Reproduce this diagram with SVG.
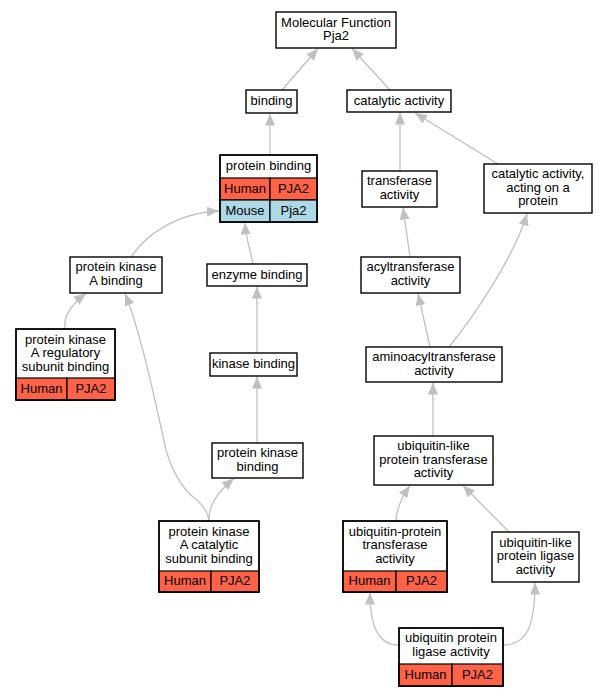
<svg xmlns="http://www.w3.org/2000/svg" width="607" height="696" viewBox="0 0 607 696">
<style>
.bg{fill:#ffffff}
.box{fill:#ffffff;stroke:#000000;stroke-width:1.4}
.cell{stroke:#000000;stroke-width:1.2}
.hu{fill:#ff6347}
.mo{fill:#add8e6}
.ln{stroke:#000000;stroke-width:1.2;fill:none}
text{font-family:"Liberation Sans",Arial,sans-serif;font-size:13px;fill:#000000;text-anchor:middle}
.edge{fill:none;stroke:#c0c0c0;stroke-width:1.3;marker-end:url(#ah)}
</style>
<defs>
<marker id="ah" markerUnits="userSpaceOnUse" markerWidth="12" markerHeight="10" viewBox="0 0 12 10" refX="12" refY="5" orient="auto">
<path d="M0,0 L12,5 L0,10 z" fill="#c0c0c0"/>
</marker>
</defs>
<rect class="bg" x="0" y="0" width="607" height="696"/>
<g id="edges">
<path class="edge" d="M282,90 L318,48.5"/>
<path class="edge" d="M390,90 L352,48.5"/>
<path class="edge" d="M270,155 L270,113.5"/>
<path class="edge" d="M400,171 L400,112.5"/>
<path class="edge" d="M498,164 L415,113"/>
<path class="edge" d="M131,257 C145,236 175,213 219,211"/>
<path class="edge" d="M253,264 C251,252 246,240 245,222.5"/>
<path class="edge" d="M410,257 L403,207.5"/>
<path class="edge" d="M65,329 C63,316 72,304 86,293.5"/>
<path class="edge" d="M257,353 L257,286.5"/>
<path class="edge" d="M430,347 L418,293.5"/>
<path class="edge" d="M449,347 C475,315 515,255 527,213.5"/>
<path class="edge" d="M257,443 L257,376.5"/>
<path class="edge" d="M433,436 L433,382.5"/>
<path class="edge" d="M209,521 C208,510 200,502 192,496 C180,485 172,470 166,450 C155,400 140,330 125,293.5"/>
<path class="edge" d="M209,521 C208,505 218,492 234,478.5"/>
<path class="edge" d="M396,521 C396,508 402,497 410,485.5"/>
<path class="edge" d="M509,532 L463,485.5"/>
<path class="edge" d="M399,645 C380,645 370,630 370,592.5"/>
<path class="edge" d="M503,645 C525,645 535,630 535,582.5"/>
</g>
<g id="mf">
<rect class="box" x="276" y="12" width="120" height="36"/>
<text x="336" y="26.75">Molecular Function</text>
<text x="336" y="40.25">Pja2</text>
</g>
<g id="binding">
<rect class="box" x="246" y="90" width="51" height="23"/>
<text x="271.5" y="105">binding</text>
</g>
<g id="catalytic">
<rect class="box" x="347" y="90" width="104" height="22"/>
<text x="399" y="104.5">catalytic activity</text>
</g>
<g id="protein_binding">
<rect class="box" x="220" y="155" width="97" height="67"/>
<rect class="hu cell" x="220" y="178" width="50" height="22"/>
<rect class="hu cell" x="270" y="178" width="47" height="22"/>
<rect class="mo cell" x="220" y="200" width="50" height="22"/>
<rect class="mo cell" x="270" y="200" width="47" height="22"/>
<rect x="220" y="155" width="97" height="67" fill="none" stroke="#000" stroke-width="1.4"/>
<text x="268.5" y="170">protein binding</text>
<text x="245" y="192.5">Human</text>
<text x="293.5" y="192.5">PJA2</text>
<text x="245" y="214.5">Mouse</text>
<text x="293.5" y="214.5">Pja2</text>
</g>
<g id="transferase">
<rect class="box" x="362" y="171" width="75" height="36"/>
<text x="399.5" y="185.25">transferase</text>
<text x="399.5" y="198.75">activity</text>
</g>
<g id="cat_acting">
<rect class="box" x="484" y="164" width="108" height="49"/>
<text x="538" y="178">catalytic activity,</text>
<text x="538" y="191.5">acting on a</text>
<text x="538" y="205">protein</text>
</g>
<g id="pka_binding">
<rect class="box" x="70" y="257" width="92" height="36"/>
<text x="116" y="271.25">protein kinase</text>
<text x="116" y="284.75">A binding</text>
</g>
<g id="enzyme_binding">
<rect class="box" x="207" y="264" width="100" height="22"/>
<text x="257" y="278.5">enzyme binding</text>
</g>
<g id="acyl">
<rect class="box" x="361" y="257" width="99" height="36"/>
<text x="410.5" y="271.25">acyltransferase</text>
<text x="410.5" y="284.75">activity</text>
</g>
<g id="pka_reg">
<rect class="box" x="16" y="329" width="99" height="71"/>
<rect class="hu cell" x="16" y="378" width="51" height="22"/>
<rect class="hu cell" x="67" y="378" width="48" height="22"/>
<rect x="16" y="329" width="99" height="71" fill="none" stroke="#000" stroke-width="1.4"/>
<text x="65.5" y="343.5">protein kinase</text>
<text x="65.5" y="357">A regulatory</text>
<text x="65.5" y="370.5">subunit binding</text>
<text x="41.5" y="392.5">Human</text>
<text x="91" y="392.5">PJA2</text>
</g>
<g id="kinase_binding">
<rect class="box" x="210" y="353" width="87" height="23"/>
<text x="253.5" y="368">kinase binding</text>
</g>
<g id="aminoacyl">
<rect class="box" x="366" y="347" width="136" height="35"/>
<text x="434" y="361">aminoacyltransferase</text>
<text x="434" y="374.5">activity</text>
</g>
<g id="pk_binding">
<rect class="box" x="212" y="443" width="91" height="35"/>
<text x="257.5" y="457">protein kinase</text>
<text x="257.5" y="470.5">binding</text>
</g>
<g id="ubl_transferase">
<rect class="box" x="374" y="436" width="119" height="49"/>
<text x="433.5" y="450">ubiquitin-like</text>
<text x="433.5" y="463.5">protein transferase</text>
<text x="433.5" y="477">activity</text>
</g>
<g id="pka_cat">
<rect class="box" x="159" y="521" width="100" height="71"/>
<rect class="hu cell" x="159" y="571" width="52" height="21"/>
<rect class="hu cell" x="211" y="571" width="48" height="21"/>
<rect x="159" y="521" width="100" height="71" fill="none" stroke="#000" stroke-width="1.4"/>
<text x="209" y="535.5">protein kinase</text>
<text x="209" y="549">A catalytic</text>
<text x="209" y="562.5">subunit binding</text>
<text x="185" y="585">Human</text>
<text x="235" y="585">PJA2</text>
</g>
<g id="ubp_transferase">
<rect class="box" x="343" y="521" width="104" height="71"/>
<rect class="hu cell" x="343" y="571" width="53" height="21"/>
<rect class="hu cell" x="396" y="571" width="51" height="21"/>
<rect x="343" y="521" width="104" height="71" fill="none" stroke="#000" stroke-width="1.4"/>
<text x="395" y="535.5">ubiquitin-protein</text>
<text x="395" y="549">transferase</text>
<text x="395" y="562.5">activity</text>
<text x="369.5" y="585">Human</text>
<text x="421.5" y="585">PJA2</text>
</g>
<g id="ubl_ligase">
<rect class="box" x="492" y="532" width="87" height="50"/>
<text x="535.5" y="546.5">ubiquitin-like</text>
<text x="535.5" y="560">protein ligase</text>
<text x="535.5" y="573.5">activity</text>
</g>
<g id="ubp_ligase">
<rect class="box" x="399" y="628" width="104" height="58"/>
<rect class="hu cell" x="399" y="664" width="53" height="22"/>
<rect class="hu cell" x="452" y="664" width="51" height="22"/>
<rect x="399" y="628" width="104" height="58" fill="none" stroke="#000" stroke-width="1.4"/>
<text x="451" y="642.25">ubiquitin protein</text>
<text x="451" y="655.75">ligase activity</text>
<text x="425.5" y="678.5">Human</text>
<text x="477.5" y="678.5">PJA2</text>
</g>
</svg>
